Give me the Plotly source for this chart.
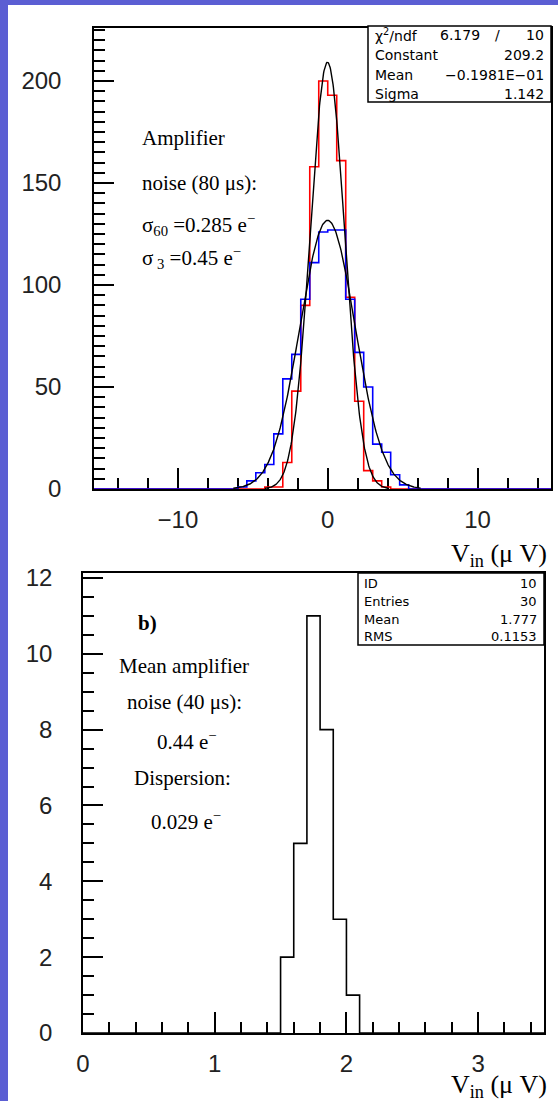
import numpy as np
import plotly.graph_objects as go

W, H = 558, 1101

# ---------------- top panel data (histogram counts per bin) ----------------
top_bin_width = 0.6
top_first_edge = -6.0
red_counts = [0, 0, 0, 1, 1, 13, 48, 90, 158, 200, 193, 161, 94, 43, 9, 4, 1, 0, 0]
blue_counts = [1, 4, 8, 12, 27, 54, 66, 93, 111, 126, 127, 127, 93, 67, 50, 22, 18, 7, 2]
top_xrange = [-15.6, 14.9]
top_yrange = [0, 226]

# Gaussian fit parameters (red from stats box, blue estimated)
red_fit = {"Constant": 209.2, "Mean": -0.01981, "Sigma": 1.142, "lo": -4.2, "hi": 4.0}
blue_fit = {"Constant": 131.7, "Mean": -0.01, "Sigma": 1.84, "lo": -6.3, "hi": 6.2}

stats_top_labels = ["χ<sup>2</sup>/ndf", "Constant", "Mean", "Sigma"]
stats_top_values = ["10", "209.2", "−0.1981E−01", "1.142"]
chi2_value = "6.179"

# ---------------- bottom panel data ----------------
bot_edges = [1.5, 1.6, 1.7, 1.8, 1.9, 2.0, 2.1]
bot_counts = [2, 5, 11, 8, 3, 1]
bot_xrange = [0, 3.5]
bot_yrange = [0, 12.13]
stats_bot_labels = ["ID", "Entries", "Mean", "RMS"]
stats_bot_values = ["10", "30", "1.777", "0.1153"]

# ---------------- geometry (pixels) ----------------
TOP = dict(l=94, r=551, t=28, b=489)
BOT = dict(l=83, r=544, t=573, b=1033)


def px(x):
    return x / W


def py(y):
    return 1 - y / H


def step_xy(edges, counts, xmin, xmax):
    xs = [xmin] + list(edges[:-1]) + [edges[-1], xmax]
    ys = [0] + list(counts) + [0, 0]
    return xs, ys


def gauss(p, n=300):
    x = np.linspace(p["lo"], p["hi"], n)
    return x, p["Constant"] * np.exp(-0.5 * ((x - p["Mean"]) / p["Sigma"]) ** 2)


top_edges = [top_first_edge + i * top_bin_width for i in range(len(red_counts) + 1)]

fig = go.Figure()

rx, ry = step_xy(top_edges, red_counts, top_xrange[0], top_xrange[1])
bx, by = step_xy(top_edges, blue_counts, top_xrange[0], top_xrange[1])
fig.add_trace(go.Scatter(x=rx, y=ry, mode="lines", line=dict(color="#ff0000", width=1.6, shape="hv"),
                         xaxis="x", yaxis="y", hoverinfo="skip"))
fig.add_trace(go.Scatter(x=bx, y=by, mode="lines", line=dict(color="#0000ff", width=1.6, shape="hv"),
                         xaxis="x", yaxis="y", hoverinfo="skip"))
for p in (blue_fit, red_fit):
    gx, gy = gauss(p)
    fig.add_trace(go.Scatter(x=gx, y=gy, mode="lines", line=dict(color="black", width=1.4),
                             xaxis="x", yaxis="y", hoverinfo="skip"))

hx, hy = step_xy(bot_edges, bot_counts, bot_xrange[0], bot_xrange[1])
fig.add_trace(go.Scatter(x=hx, y=hy, mode="lines", line=dict(color="black", width=1.6, shape="hv"),
                         xaxis="x2", yaxis="y2", hoverinfo="skip"))

tickfont = dict(family="Liberation Sans", size=24, color="#222222")
axcommon = dict(showline=True, linecolor="black", linewidth=1.5, mirror=True, showgrid=False,
                zeroline=False, ticks="inside", tickcolor="black", tickwidth=1.5,
                tickfont=tickfont, automargin=False)
minor_style = dict(ticks="inside", tickcolor="black", tickwidth=1.5, showgrid=False)

fig.update_layout(
    width=W, height=H, margin=dict(l=0, r=0, t=0, b=0),
    paper_bgcolor="#5b5ed3", plot_bgcolor="white", showlegend=False,
    xaxis=dict(domain=[px(TOP["l"]), px(TOP["r"])], range=top_xrange, anchor="y",
               tick0=0, dtick=10, ticklen=21, ticklabelstandoff=8, layer="below traces",
               minor=dict(tick0=0, dtick=2, ticklen=11, **minor_style),
               **axcommon),
    yaxis=dict(domain=[py(TOP["b"]), py(TOP["t"])], range=top_yrange, anchor="x",
               tick0=0, dtick=50, ticklen=20, ticklabelstandoff=26,
               minor=dict(tick0=0, dtick=5, ticklen=11, **minor_style),
               **axcommon),
    # secondary long ticks every 25 (unlabelled), as on the original axis
    yaxis3=dict(domain=[py(TOP["b"]), py(TOP["t"])], range=top_yrange, anchor="x", overlaying="y",
                side="left", tick0=0, dtick=25, ticks="inside", ticklen=20, tickwidth=1.5,
                tickcolor="black", showticklabels=False, showline=False, showgrid=False,
                zeroline=False),
    xaxis2=dict(domain=[px(BOT["l"]), px(BOT["r"])], range=bot_xrange, anchor="y2",
                tick0=0, dtick=1, ticklen=21, ticklabelstandoff=8,
                minor=dict(tick0=0, dtick=0.2, ticklen=11, **minor_style),
                **axcommon),
    yaxis2=dict(domain=[py(BOT["b"]), py(BOT["t"])], range=bot_yrange, anchor="x2",
                tick0=0, dtick=2, ticklen=20, ticklabelstandoff=24,
                minor=dict(tick0=0, dtick=0.5, ticklen=11, **minor_style),
                **axcommon),
)

shapes = [
    dict(type="rect", xref="paper", yref="paper", x0=px(8), x1=1, y0=0, y1=py(5),
         fillcolor="white", line=dict(width=0), layer="below"),
    dict(type="rect", xref="paper", yref="paper", x0=px(368), x1=px(551), y0=py(102), y1=py(26),
         fillcolor="white", line=dict(color="black", width=1.5), layer="above"),
    dict(type="rect", xref="paper", yref="paper", x0=px(358), x1=px(544), y0=py(645), y1=py(573),
         fillcolor="white", line=dict(color="black", width=1.5), layer="above"),
]
fig.update_layout(shapes=shapes)

ann = []
statfont = dict(family="DejaVu Sans", size=14, color="black")
rows_top = [35, 55, 75, 94]
for lab, val, yy in zip(stats_top_labels, stats_top_values, rows_top):
    ann.append(dict(x=px(373), y=py(yy), text=lab, xanchor="left", yanchor="middle", font=statfont))
    ann.append(dict(x=px(546), y=py(yy), text=val, xanchor="right", yanchor="middle", font=statfont))
ann.append(dict(x=px(460), y=py(rows_top[0]), text=chi2_value, xanchor="center", yanchor="middle", font=statfont))
ann.append(dict(x=px(497), y=py(rows_top[0]), text="/", xanchor="center", yanchor="middle", font=statfont))

statfont2 = dict(family="DejaVu Sans", size=13, color="black")
rows_bot = [583, 601, 619, 636]
for lab, val, yy in zip(stats_bot_labels, stats_bot_values, rows_bot):
    ann.append(dict(x=px(362), y=py(yy), text=lab, xanchor="left", yanchor="middle", font=statfont2))
    ann.append(dict(x=px(539), y=py(yy), text=val, xanchor="right", yanchor="middle", font=statfont2))

serif = dict(family="Liberation Serif", size=21, color="black")
top_texts = [
    ("Amplifier", 140, 138),
    ("noise (80 μs):", 140, 183),
    ("σ<sub>60</sub> =0.285 e<sup>−</sup>", 140, 224),
    ("σ<sub> 3</sub> =0.45 e<sup>−</sup>", 140, 257),
]
for t, x, y in top_texts:
    ann.append(dict(x=px(x), y=py(y), text=t, xanchor="left", yanchor="middle", font=serif))

bot_texts = [
    ("<b>b)</b>", 147, 623),
    ("Mean amplifier", 184, 666),
    ("noise (40 μs):", 184, 702),
    ("0.44 e<sup>−</sup>", 187, 740),
    ("Dispersion:", 182, 778),
    ("0.029 e<sup>−</sup>", 186, 820),
]
for t, x, y in bot_texts:
    ann.append(dict(x=px(x), y=py(y), text=t, xanchor="center", yanchor="middle", font=serif))

xtitle_font = dict(family="Liberation Serif", size=26, color="black")
ann.append(dict(x=px(549), y=py(555), text="V<sub>in</sub> (μ V)", xanchor="right", yanchor="middle", font=xtitle_font))
ann.append(dict(x=px(549), y=py(1086), text="V<sub>in</sub> (μ V)", xanchor="right", yanchor="middle", font=xtitle_font))

for a in ann:
    a.update(xref="paper", yref="paper", showarrow=False)
fig.update_layout(annotations=ann)

fig.write_html("out.html", config={"displayModeBar": False},
               post_script="document.body.style.margin='0';document.body.style.overflow='hidden';")
